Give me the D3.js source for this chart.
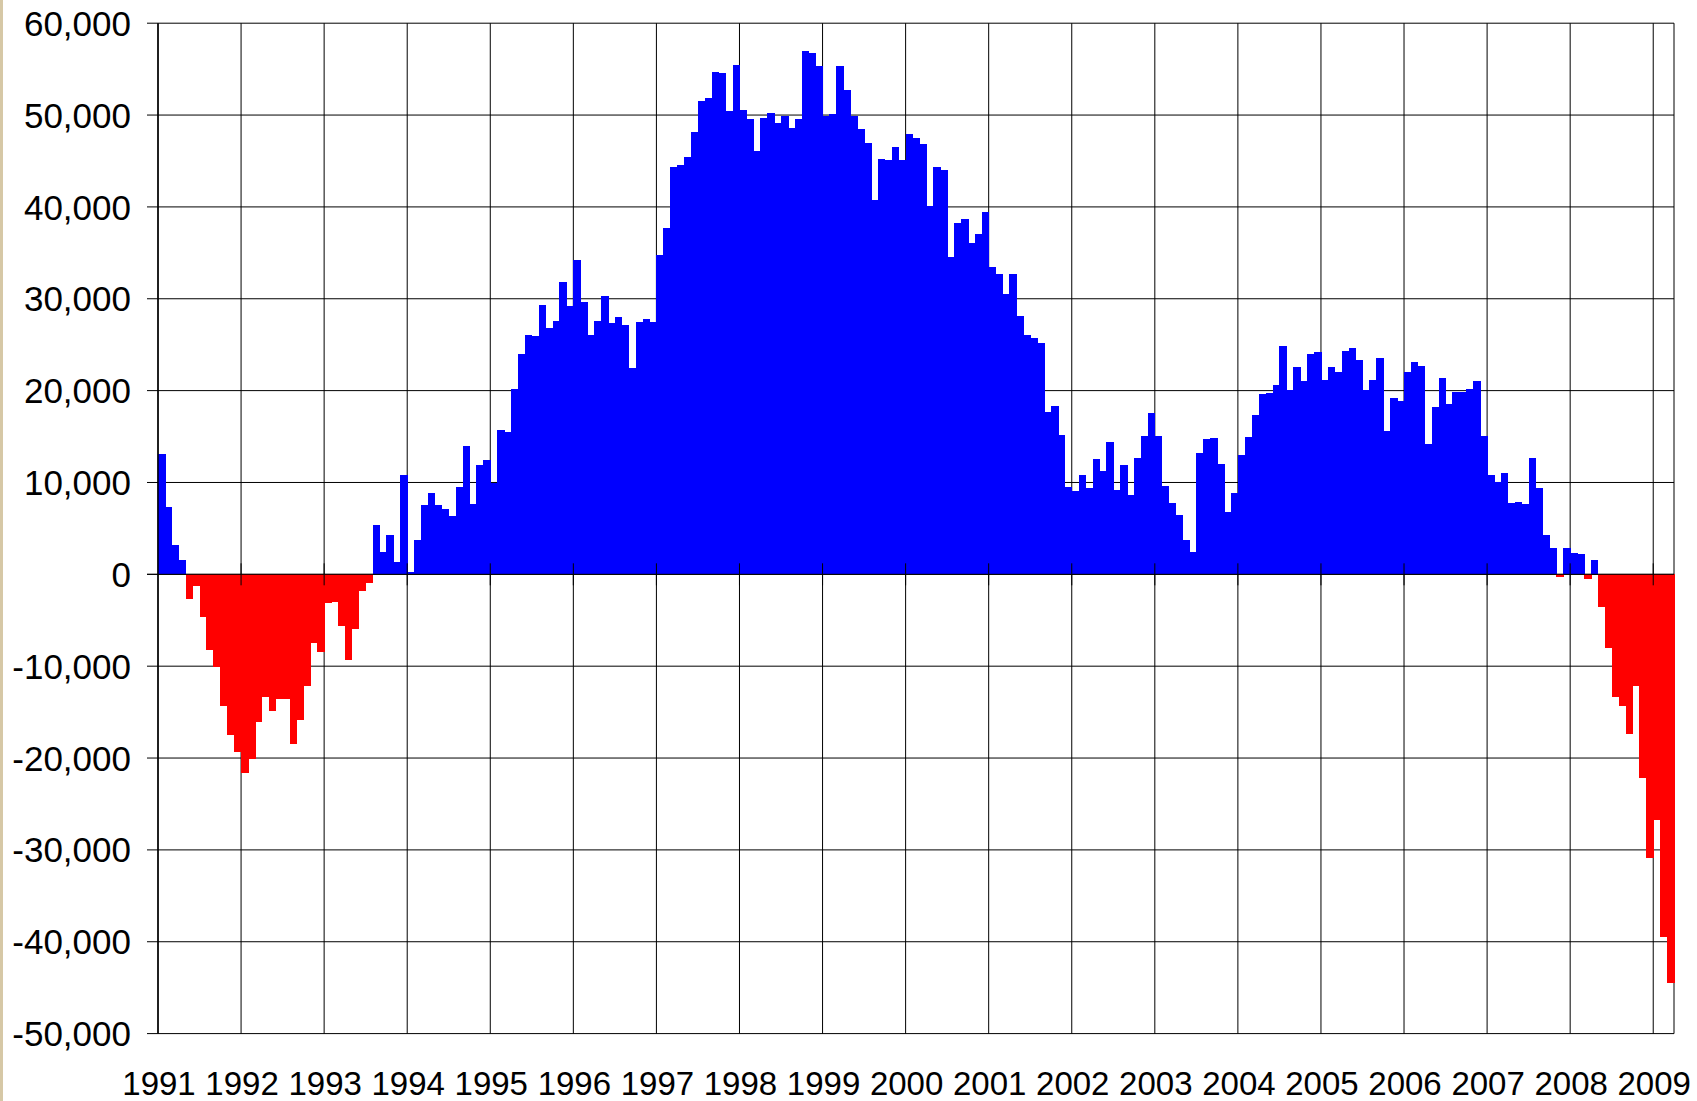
<!DOCTYPE html>
<meta charset="utf-8">
<style>

body {
  margin: 0;
  background: #fff;
}

text {
  font-family: Arial, "Liberation Sans", sans-serif;
  fill: #000;
}

.grid line {
  stroke: #000;
  stroke-width: 1;
}

.bars rect {
  shape-rendering: crispEdges;
}

</style>
<body>
<script src="https://cdn.jsdelivr.net/npm/d3@7/dist/d3.min.js"></script>
<script>

// monthly values, Jan 1991 .. Mar 2009
var firstYear = 1991;

var values = [
  13150, 7340, 3210, 1530, -2680, -1220, -4660, -8260, -10090, -14370, -17510, -19340,     // 1991
  -21640, -20100, -16130, -13380, -14910, -13610, -13610, -18500, -15900, -12160, -7490, -8410, // 1992
  -3130, -3060, -5660, -9330, -5960, -1830, -990, 5350, 2450, 4280, 1300, 10860,          // 1993
  250, 3780, 7570, 8860, 7570, 7140, 6360, 9500, 13980, 7650, 11910, 12470,               // 1994
  9930, 15740, 15490, 20180, 24010, 26080, 25950, 29350, 26810, 27580, 31840, 29180,      // 1995
  34210, 29650, 26080, 27580, 30340, 27370, 28010, 27150, 22420, 27500, 27800, 27500,     // 1996
  34770, 37660, 44370, 44590, 45450, 48160, 51560, 51860, 54700, 54580, 50440, 55480,     // 1997
  50570, 49540, 46050, 49710, 50230, 49150, 49920, 48590, 49620, 56990, 56810, 55350,     // 1998
  49920, 50100, 55350, 52720, 49920, 48500, 46910, 40760, 45230, 45100, 46520, 45100,     // 1999
  47900, 47510, 46870, 40070, 44370, 44030, 34510, 38260, 38690, 36110, 37050, 39460,     // 2000
  33480, 32660, 30470, 32660, 28140, 26080, 25690, 25210, 17640, 18370, 15180, 9500,      // 2001
  9110, 10840, 9410, 12560, 11270, 14410, 9200, 11910, 8680, 12690, 15050, 17590,         // 2002
  15050, 9630, 7780, 6490, 3780, 2480, 13200, 14750, 14840, 12040, 6790, 8860,            // 2003
  12990, 14970, 17340, 19660, 19750, 20610, 24870, 20090, 22590, 21040, 24010, 24220,     // 2004
  21170, 22590, 22030, 24310, 24650, 23360, 20090, 21170, 23580, 15610, 19190, 18890,     // 2005
  22030, 23100, 22670, 14190, 18240, 21340, 18580, 19880, 19880, 20180, 21020, 15060,     // 2006
  10860, 10010, 11010, 7800, 7870, 7650, 12690, 9400, 4280, 2900, -300, 2900,             // 2007
  2290, 2220, -540, 1530, -3590, -8030, -13380, -14370, -17430, -12160, -22170, -30890,   // 2008
  -26760, -39450, -44490                                                                  // 2009
];

var yearLabels = ["1991", "1992", "1993", "1994", "1995", "1996", "1997", "1998", "1999",
                  "2000", "2001", "2002", "2003", "2004", "2005", "2006", "2007", "2008", "2009"];

var yTicks = [60000, 50000, 40000, 30000, 20000, 10000, 0, -10000, -20000, -30000, -40000, -50000];

var width = 1697,
    height = 1101;

// plot box (note: "top" would clash with window.top)
var plotLeft = 158, plotRight = 1674, plotTop = 23.2, plotBottom = 1033.6;

var x = d3.scaleLinear()
    .domain([0, values.length])
    .range([plotLeft, plotRight]);

var y = d3.scaleLinear()
    .domain([-50000, 60000])
    .range([plotBottom, plotTop]);

// plain hyphen for negatives, like the original
var fmt = d3.formatLocale({decimal: ".", thousands: ",", grouping: [3], currency: ["", ""], minus: "-"}).format(",");

var svg = d3.select("body").append("svg")
    .attr("width", width)
    .attr("height", height);

// beige edge of the slide
svg.append("rect")
    .attr("x", 0).attr("y", 0)
    .attr("width", 3).attr("height", height)
    .attr("fill", "#d6c8a6");

// grid
var grid = svg.append("g").attr("class", "grid");

grid.selectAll(".h")
    .data(yTicks)
  .enter().append("line")
    .attr("x1", plotLeft - 11)
    .attr("x2", plotRight)
    .attr("y1", function(d) { return y(d); })
    .attr("y2", function(d) { return y(d); });

grid.selectAll(".v")
    .data(yearLabels)
  .enter().append("line")
    .attr("x1", function(d, i) { return x(i * 12); })
    .attr("x2", function(d, i) { return x(i * 12); })
    .attr("y1", plotTop)
    .attr("y2", plotBottom);

grid.append("line")
    .attr("x1", plotRight).attr("x2", plotRight)
    .attr("y1", plotTop).attr("y2", plotBottom);

// bars
svg.append("g").attr("class", "bars").selectAll("rect")
    .data(values)
  .enter().append("rect")
    .attr("x", function(d, i) { return x(i); })
    .attr("width", function(d, i) { return x(i + 1) - x(i) + 0.6; })
    .attr("y", function(d) { return y(Math.max(0, d)); })
    .attr("height", function(d) { return Math.abs(y(d) - y(0)); })
    .attr("fill", function(d) { return d < 0 ? "#ff0000" : "#0000ff"; });

// zero line with cross ticks at each year
var axis = svg.append("g").attr("class", "grid");

axis.append("line")
    .attr("x1", plotLeft - 11).attr("x2", plotRight)
    .attr("y1", y(0)).attr("y2", y(0));

axis.selectAll(".tick")
    .data(yearLabels.slice(1))
  .enter().append("line")
    .attr("x1", function(d, i) { return x((i + 1) * 12); })
    .attr("x2", function(d, i) { return x((i + 1) * 12); })
    .attr("y1", y(0) - 11)
    .attr("y2", y(0) + 11);

axis.append("line")
    .attr("x1", plotLeft).attr("x2", plotLeft)
    .attr("y1", plotTop).attr("y2", plotBottom)
    .style("stroke-width", 1.5);

// labels
svg.append("g").selectAll("text")
    .data(yTicks)
  .enter().append("text")
    .attr("x", 131)
    .attr("y", function(d) { return y(d); })
    .attr("dy", "0.36em")
    .attr("text-anchor", "end")
    .style("font-size", "35px")
    .text(function(d) { return fmt(d); });

svg.append("g").selectAll("text")
    .data(yearLabels)
  .enter().append("text")
    .attr("x", function(d, i) { return x(i * 12) + 1; })
    .attr("y", 1095)
    .attr("text-anchor", "middle")
    .style("font-size", "33px")
    .text(function(d) { return d; });

</script>
